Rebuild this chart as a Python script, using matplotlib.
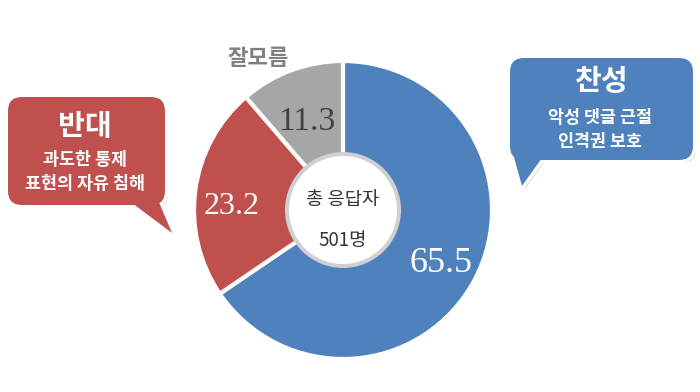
import matplotlib.pyplot as plt
from matplotlib.patches import FancyBboxPatch, Polygon, Circle

plt.rcParams['font.family'] = ['Noto Sans CJK KR', 'DejaVu Sans']

labels = ['찬성', '반대', '잘모름']
values = [65.5, 23.2, 11.3]
colors = ['#4F81BD', '#C0504D', '#A6A6A6']
total_text = ['총 응답자', '501명']
bubble_titles = {'찬성': ['악성 댓글 근절', '인격권 보호'],
                 '반대': ['과도한 통제', '표현의 자유 침해']}

W, H = 700, 392


def Y(y):
    return H - y


fig = plt.figure(figsize=(7, 3.92), dpi=100)
ax = fig.add_axes([0, 0, 1, 1])

cx, cy, R, r_in = 343, 210, 149, 55
wedges, _ = ax.pie(values, colors=colors, startangle=90, counterclock=False,
                   radius=R, center=(cx, Y(cy)),
                   wedgeprops=dict(width=R - r_in, edgecolor='white', linewidth=3))

# center hole
ax.add_patch(Circle((cx, Y(cy)), r_in + 3, facecolor='#D0D0D0', edgecolor='none', zorder=3))
ax.add_patch(Circle((cx, Y(cy)), r_in - 1, facecolor='white', edgecolor='none', zorder=4))
ax.text(cx, Y(199), total_text[0], ha='center', va='center', fontsize=13.5, color='#333333', zorder=5)
ax.text(cx, Y(240), total_text[1], ha='center', va='center', fontsize=13.5, color='#333333', zorder=5)

# value labels
label_pos = [(441, 263), (232, 206), (307, 122)]
label_col = ['white', 'white', '#404040']
label_size = [26, 23, 24]
for v, (x, y), c, s in zip(values, label_pos, label_col, label_size):
    ax.text(x, Y(y), f'{v:.1f}', ha='center', va='center', fontsize=s, color=c,
            family=['Liberation Serif', 'DejaVu Serif'], zorder=5)

ax.text(258, Y(58), labels[2], ha='center', va='center', fontsize=16, color='#7F7F7F',
        fontweight='bold', zorder=5)


def bubble(x0, y0, x1, y1, tail, color):
    # shadow, white outline, fill
    for dx, dy, col, z in [(3, 3, '#BFBFBF', 1), (0, 0, 'white', 2), (0, 0, color, 3)]:
        lw = 5 if col == 'white' else 0
        box = FancyBboxPatch((x0 + dx, Y(y1) - dy), x1 - x0, y1 - y0,
                             boxstyle='round,pad=0,rounding_size=14',
                             facecolor=col if col != 'white' else color,
                             edgecolor='white' if col == 'white' else 'none',
                             linewidth=lw, zorder=z)
        tri = Polygon([(tx + dx, Y(ty) - dy) for tx, ty in tail],
                      closed=True, facecolor=col if col != 'white' else color,
                      edgecolor='white' if col == 'white' else 'none',
                      linewidth=lw, joinstyle='miter', zorder=z)
        if col == '#BFBFBF':
            box.set_alpha(0.8)
            tri.set_alpha(0.8)
        ax.add_patch(box)
        ax.add_patch(tri)


bubble(8, 97, 165, 205, [(128, 200), (158, 200), (172, 233)], colors[1])
bubble(510, 58, 693, 160, [(512, 150), (542, 158), (522, 186)], colors[0])

ax.text(85, Y(126), labels[1], ha='center', va='center', fontsize=21, color='white',
        fontweight='bold', zorder=5)
ax.text(85, Y(160), bubble_titles['반대'][0], ha='center', va='center', fontsize=12.5,
        color='white', fontweight='bold', zorder=5)
ax.text(85, Y(184), bubble_titles['반대'][1], ha='center', va='center', fontsize=12.5,
        color='white', fontweight='bold', zorder=5)

ax.text(601, Y(81), labels[0], ha='center', va='center', fontsize=21, color='white',
        fontweight='bold', zorder=5)
ax.text(600, Y(118), bubble_titles['찬성'][0], ha='center', va='center', fontsize=12.5,
        color='white', fontweight='bold', zorder=5)
ax.text(600, Y(142), bubble_titles['찬성'][1], ha='center', va='center', fontsize=12.5,
        color='white', fontweight='bold', zorder=5)

ax.set_xlim(0, W)
ax.set_ylim(0, H)
ax.set_aspect('equal')
ax.axis('off')

fig.savefig('out.png', dpi=100)
plt.close(fig)
